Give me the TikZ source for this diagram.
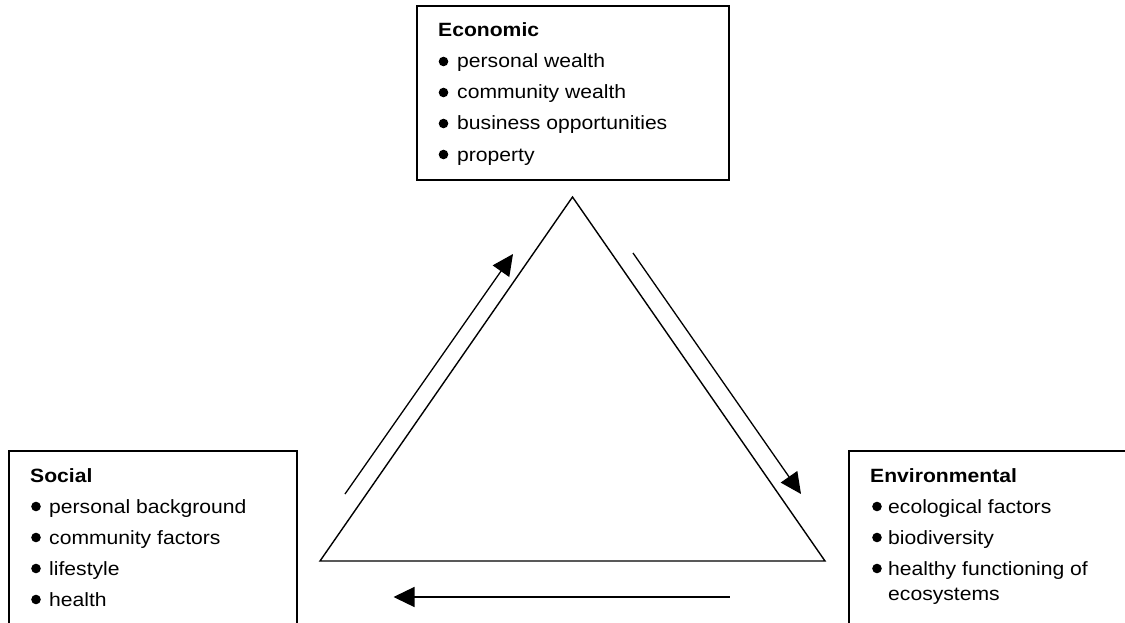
\documentclass[tikz,border=0pt]{standalone}
\usepackage{fontspec}
\setmainfont{Liberation Sans}[FakeStretch=1.1]
\usetikzlibrary{arrows.meta}
\begin{document}
\begin{tikzpicture}[x=1pt,y=-1pt,
  panel/.style={draw=black,line width=1.5pt},
  headline/.style={anchor=base west,inner sep=0pt,font=\fontsize{19.2}{22}\selectfont\bfseries},
  itemline/.style={anchor=base west,inner sep=0pt,font=\fontsize{19.2}{22}\selectfont},
  flow/.style={line width=1.3pt,-{Triangle[length=21pt,width=20pt]}},
  edge/.style={line width=1.4pt,line join=miter}]
\useasboundingbox (0,0) rectangle (1125,623);
\fill[white] (0,0) rectangle (1125,623);
\clip (0,0) rectangle (1125,623);
% bullet marker: centre at (x, baseline-6)
\newcommand{\bulletat}[2]{\fill (#1,#2-6.5) circle (4.8pt);}

% ---- Economic panel ----
\draw[panel] (417,6) rectangle (729,180);
\node[headline] (eco) at (438,37) {Economic};
\node[itemline] (eco1) at (457,68) {personal wealth};
\node[itemline] (eco2) at (457,99) {community wealth};
\node[itemline] (eco3) at (457,130) {business opportunities};
\node[itemline] (eco4) at (457,161) {property};
\foreach \y in {68,99,130,161} {\bulletat{443.5}{\y}}

% ---- Social panel ----
\draw[panel] (9,451) rectangle (297,640);
\node[headline] (soc) at (30,482) {Social};
\node[itemline] (soc1) at (49,513) {personal background};
\node[itemline] (soc2) at (49,544) {community factors};
\node[itemline] (soc3) at (49,575) {lifestyle};
\node[itemline] (soc4) at (49,606) {health};
\foreach \y in {513,544,575,606} {\bulletat{36}{\y}}

% ---- Environmental panel ----
\draw[panel] (849,451) rectangle (1140,640);
\node[headline] (env) at (870,482) {Environmental};
\node[itemline] (env1) at (888,513) {ecological factors};
\node[itemline] (env2) at (888,544) {biodiversity};
\node[itemline] (env3) at (888,575) {healthy functioning of};
\node[itemline] (env3b) at (888,600) {ecosystems};
\foreach \y in {513,544,575} {\bulletat{877}{\y}}

% ---- central triangle ----
\coordinate (apex) at (572.5,197);
\coordinate (bl) at (320,561);
\coordinate (br) at (825,561);
\draw[edge] (apex) -- (br) -- (bl) -- cycle;

% ---- cycle arrows ----
\coordinate (a1s) at (345,494);
\coordinate (a1e) at (513,254);
\coordinate (a2s) at (633,253);
\coordinate (a2e) at (801,494);
\coordinate (a3s) at (729.5,597);
\coordinate (a3e) at (393.5,597);
\draw[flow] (a1s) -- (a1e);
\draw[flow] (a2s) -- (a2e);
\draw[flow] (a3s) -- (a3e);
\end{tikzpicture}
\end{document}
